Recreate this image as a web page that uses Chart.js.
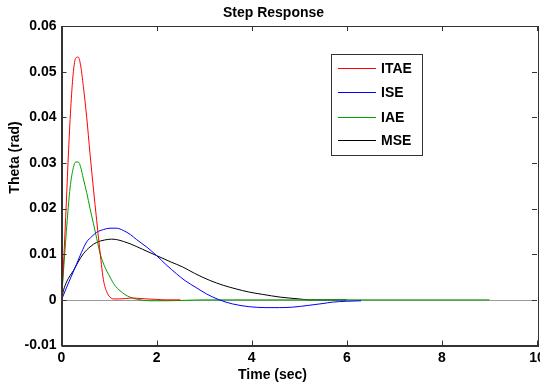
<!DOCTYPE html>
<html>
<head>
<meta charset="utf-8">
<script src="https://cdn.jsdelivr.net/npm/chart.js@4/dist/chart.umd.min.js"></script>
<style>
html,body{margin:0;padding:0;background:#fff;}
#wrap{width:540px;height:383px;position:relative;}
</style>
</head>
<body>
<div id="wrap"><canvas id="c" width="540" height="383"></canvas></div>
<script>
const titleText = "Step Response";
const xTitle = "Time (sec)";
const yTitle = "Theta (rad)";
const seriesNames = ["ITAE", "ISE", "IAE", "MSE"];
const seriesColors = ["#ff0000", "#0000ff", "#00a000", "#000000"];
const xTicks = [0, 2, 4, 6, 8, 10];
const yTicks = [-0.01, 0, 0.01, 0.02, 0.03, 0.04, 0.05, 0.06];

const tITAE = [0, 0.05, 0.1, 0.15, 0.2, 0.25, 0.3, 0.35, 0.4, 0.46, 0.53, 0.6, 0.67, 0.74, 0.8, 0.88, 0.95, 1.02, 1.1, 1.2, 1.35, 1.5, 1.65, 1.8, 2.0, 2.2, 2.5];
const vITAE = [0, 0.0095, 0.021, 0.033, 0.043, 0.050, 0.0530, 0.0532, 0.0515, 0.0467, 0.040, 0.032, 0.0245, 0.0174, 0.0115, 0.0045, 0.0018, 0.0006, 0.0002, 0.0002, 0.0003, 0.0004, 0.0003, 0.0002, 0.0001, 0.0, 0.0];

const tISE = [0, 0.11, 0.2, 0.32, 0.42, 0.53, 0.64, 0.74, 0.88, 1.02, 1.16, 1.3, 1.45, 1.58, 1.8, 2.0, 2.2, 2.42, 2.6, 2.83, 3.05, 3.32, 3.6, 3.95, 4.3, 4.58, 4.86, 5.2, 5.5, 5.7, 6.0, 6.3];
const vISE = [0, 0.0028, 0.0050, 0.0079, 0.0104, 0.0127, 0.0139, 0.0148, 0.0154, 0.0157, 0.0157, 0.0152, 0.0143, 0.0132, 0.0115, 0.0097, 0.0077, 0.0057, 0.0042, 0.0027, 0.0013, 0.0000, -0.0009, -0.0015, -0.0017, -0.0017, -0.0016, -0.0012, -0.0008, -0.0005, -0.0003, -0.0002];

const tIAE = [0, 0.05, 0.12, 0.18, 0.25, 0.3, 0.35, 0.4, 0.46, 0.53, 0.6, 0.67, 0.74, 0.81, 0.9, 1.02, 1.12, 1.23, 1.33, 1.44, 1.6, 1.86, 2.2, 2.6, 3.0, 4.0, 5.0, 6.0, 7.0, 8.0, 9.0];
const vIAE = [0, 0.0075, 0.0174, 0.0245, 0.0290, 0.0302, 0.0302, 0.0292, 0.0265, 0.0235, 0.0200, 0.0168, 0.0135, 0.0102, 0.0075, 0.0050, 0.0032, 0.0020, 0.0012, 0.0006, 0.0001, -0.0002, -0.0002, -0.0001, 0.0, 0.0, 0.0, 0.0, 0.0, 0.0, 0.0];

const tMSE = [0, 0.04, 0.11, 0.18, 0.25, 0.35, 0.46, 0.6, 0.74, 0.9, 1.05, 1.16, 1.3, 1.44, 1.7, 2.0, 2.3, 2.55, 2.8, 3.11, 3.4, 3.67, 3.95, 4.23, 4.6, 5.0, 5.2, 5.6, 6.0];
const vMSE = [0, 0.0020, 0.0040, 0.0053, 0.0064, 0.0083, 0.0101, 0.0116, 0.0126, 0.0131, 0.0133, 0.0132, 0.0128, 0.0123, 0.0111, 0.0097, 0.0083, 0.0072, 0.0058, 0.0043, 0.0032, 0.0024, 0.0017, 0.0012, 0.0006, 0.0002, 0.0, 0.0, 0.0];

const allT = [tITAE, tISE, tIAE, tMSE];
const allV = [vITAE, vISE, vIAE, vMSE];

const FONT = "'Liberation Sans', Arial, sans-serif";

const datasets = seriesNames.map((name, i) => ({
  label: name,
  data: allT[i].map((t, j) => ({x: t, y: allV[i][j]})),
  borderColor: seriesColors[i],
  backgroundColor: seriesColors[i],
  borderWidth: 1,
  pointRadius: 0,
  cubicInterpolationMode: 'monotone',
  fill: false
}));

const decor = {
  id: 'decor',
  beforeDatasetsDraw(chart) {
    const ctx = chart.ctx, xs = chart.scales.x, ys = chart.scales.y;
    const y0 = ys.getPixelForValue(0);
    ctx.save();
    ctx.strokeStyle = '#9a9a9a';
    ctx.lineWidth = 1;
    ctx.beginPath();
    ctx.moveTo(xs.left, Math.round(y0) + 0.5);
    ctx.lineTo(xs.right, Math.round(y0) + 0.5);
    ctx.stroke();
    ctx.restore();
  },
  afterDraw(chart) {
    const ctx = chart.ctx, a = chart.chartArea, xs = chart.scales.x, ys = chart.scales.y;
    ctx.save();
    ctx.strokeStyle = '#333';
    ctx.lineWidth = 1;
    ctx.strokeRect(Math.round(a.left) + 0.5, Math.round(a.top) + 0.5, Math.round(a.right - a.left), Math.round(a.bottom - a.top));
    ctx.beginPath();
    const tl = 5;
    xTicks.forEach(v => {
      const px = Math.round(xs.getPixelForValue(v)) + 0.5;
      ctx.moveTo(px, a.bottom); ctx.lineTo(px, a.bottom - tl);
      ctx.moveTo(px, a.top); ctx.lineTo(px, a.top + tl);
    });
    yTicks.forEach(v => {
      const py = Math.round(ys.getPixelForValue(v)) + 0.5;
      ctx.moveTo(a.left, py); ctx.lineTo(a.left + tl, py);
      ctx.moveTo(a.right, py); ctx.lineTo(a.right - tl, py);
    });
    ctx.stroke();
    ctx.fillStyle = '#000';
    ctx.font = 'bold 14px ' + FONT;
    ctx.textAlign = 'center';
    ctx.textBaseline = 'middle';
    ctx.fillText(titleText, 273.5, 13);
    ctx.fillText(xTitle, 272.5, 375);
    ctx.save();
    ctx.translate(15, 157.5);
    ctx.rotate(-Math.PI / 2);
    ctx.fillText(yTitle, 0, 0);
    ctx.restore();
    const lx = 331, ly = 54, lw = 91, lh = 101;
    ctx.fillStyle = '#fff';
    ctx.fillRect(lx, ly, lw, lh);
    ctx.strokeStyle = '#333';
    ctx.strokeRect(lx + 0.5, ly + 0.5, lw, lh);
    const rows = [68, 92, 117, 140];
    chart.data.datasets.forEach((ds, i) => {
      ctx.strokeStyle = ds.borderColor;
      ctx.lineWidth = 1;
      ctx.beginPath();
      ctx.moveTo(338, rows[i] + 0.5);
      ctx.lineTo(376, rows[i] + 0.5);
      ctx.stroke();
      ctx.fillStyle = '#000';
      ctx.textAlign = 'left';
      ctx.font = 'bold 14px ' + FONT;
      ctx.fillText(ds.label, 381, rows[i] + 1);
    });
    ctx.restore();
  }
};

new Chart(document.getElementById('c'), {
  type: 'line',
  data: {datasets},
  options: {
    responsive: false,
    animation: false,
    layout: {padding: {left: 0, right: 3, top: 26, bottom: 0}},
    plugins: {legend: {display: false}, tooltip: {enabled: false}, title: {display: false}},
    scales: {
      x: {
        type: 'linear', min: 0, max: 10,
        afterBuildTicks: s => { s.ticks = xTicks.map(v => ({value: v})); },
        afterFit: s => { s.height = 37.5; s.paddingLeft = 0; s.paddingRight = 0; },
        grid: {drawOnChartArea: false, drawTicks: false},
        border: {display: true, color: '#333'},
        ticks: {color: '#000', font: {family: FONT, size: 14, weight: 'bold'}, padding: 4, maxRotation: 0, autoSkip: false}
      },
      y: {
        type: 'linear', min: -0.01, max: 0.06,
        afterBuildTicks: s => { s.ticks = yTicks.map(v => ({value: v})); },
        afterFit: s => { s.width = 61.5; s.paddingTop = 0; s.paddingBottom = 0; },
        grid: {drawOnChartArea: false, drawTicks: false},
        border: {display: true, color: '#333'},
        ticks: {color: '#000', font: {family: FONT, size: 14, weight: 'bold'}, padding: 5,
          callback: v => (v === 0 ? '0' : String(Math.round(v * 100) / 100))}
      }
    }
  },
  plugins: [decor]
});
</script>
</body>
</html>
